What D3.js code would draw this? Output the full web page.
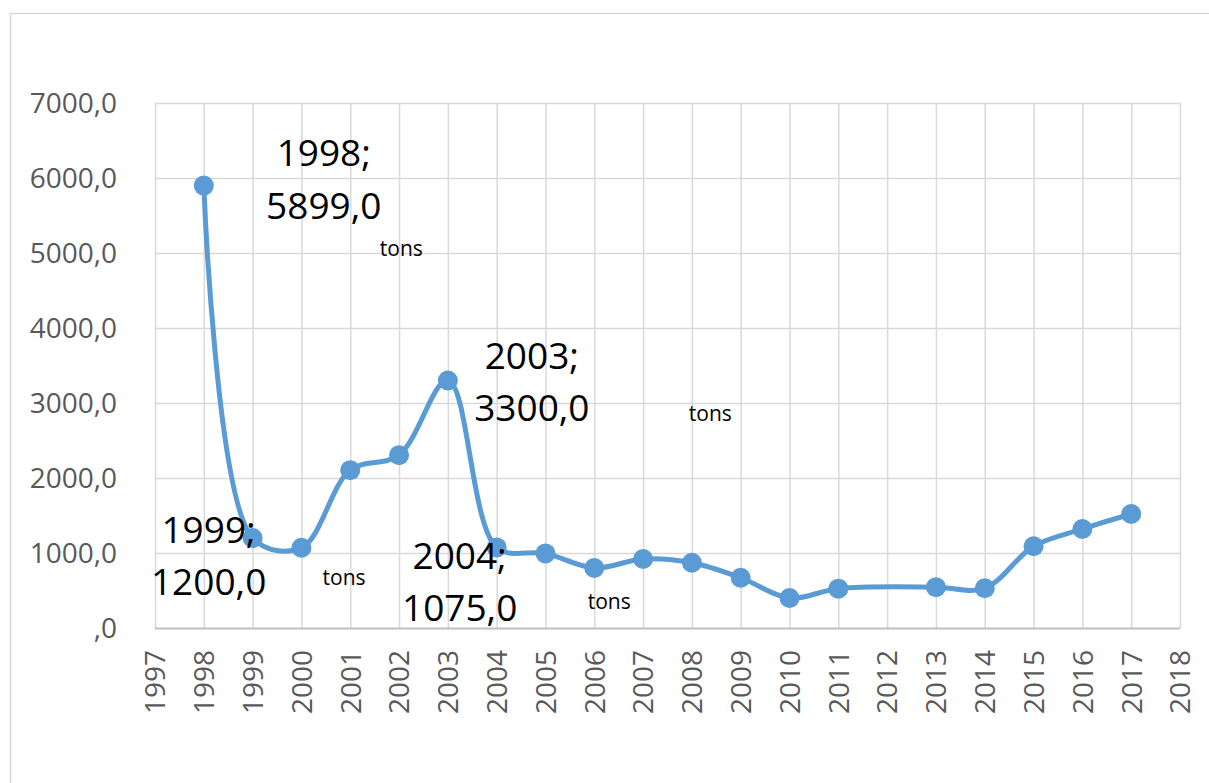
<!DOCTYPE html>
<html>
<head>
<meta charset="utf-8">
<script src="https://cdn.jsdelivr.net/npm/d3@7"></script>
<style>
  body { margin: 0; background: #fff; }
  svg { display: block; font-family: "Open Sans", sans-serif; }
</style>
</head>
<body>
<svg id="chart"></svg>
<script>
// data (2012 missing in source)
const years = [1998, 1999, 2000, 2001, 2002, 2003, 2004, 2005, 2006, 2007, 2008, 2009, 2010, 2011, 2013, 2014, 2015, 2016, 2017];
const values = [5899, 1200, 1070, 2105, 2305, 3300, 1075, 995, 800, 920, 870, 670, 400, 525, 545, 530, 1090, 1320, 1520];
const yTicks = [0, 1000, 2000, 3000, 4000, 5000, 6000, 7000];
const xTicks = d3.range(1997, 2019);
const labelYears = [1998, 1999, 2003, 2004];
const unit = "tons";

const width = 1209, height = 783;
const margin = { top: 103, right: 29, bottom: 155, left: 155 };

const svg = d3.select("#chart")
    .attr("width", width)
    .attr("height", height)
    .attr("viewBox", [0, 0, width, height]);

// chart area border
svg.append("rect")
    .attr("x", 10.5).attr("y", 13.5)
    .attr("width", width + 20).attr("height", height + 20)
    .attr("fill", "none")
    .attr("stroke", "#d9d9d9")
    .attr("stroke-width", 1.5);

const x = d3.scaleLinear()
    .domain([1997, 2018])
    .range([margin.left, width - margin.right]);

const y = d3.scaleLinear()
    .domain([0, 7000])
    .range([height - margin.bottom, margin.top]);

const fmt = v => v === 0 ? ",0" : d3.format(".1f")(v).replace(".", ",");

// vertical grid + x labels
svg.append("g")
    .attr("transform", `translate(0,${height - margin.bottom})`)
    .call(d3.axisBottom(x).tickValues(xTicks).tickFormat(d3.format("d")).tickSize(0))
    .call(g => {
        g.select(".domain").remove();
        g.selectAll(".tick line").clone()
            .attr("y2", -(height - margin.top - margin.bottom))
            .attr("stroke", "#d9d9d9")
            .attr("stroke-width", 1.5);
        g.selectAll(".tick text")
            .attr("transform", "rotate(-90)")
            .attr("text-anchor", "end")
            .attr("x", -22)
            .attr("y", 0)
            .attr("dy", "0.35em")
            .attr("fill", "#595959")
            .attr("font-size", 28)
            .attr("font-family", "Open Sans, sans-serif");
    });

// horizontal grid + y labels
svg.append("g")
    .attr("transform", `translate(${margin.left},0)`)
    .call(d3.axisLeft(y).tickValues(yTicks).tickFormat(fmt).tickSize(0))
    .call(g => {
        g.select(".domain").remove();
        g.selectAll(".tick line").clone()
            .attr("x2", width - margin.left - margin.right)
            .attr("stroke", d => d === 0 ? "#bfbfbf" : "#d9d9d9")
            .attr("stroke-width", d => d === 0 ? 2 : 1.5);
        g.selectAll(".tick text")
            .attr("x", -38)
            .attr("dy", "0.35em")
            .attr("fill", "#595959")
            .attr("font-size", 28)
            .attr("font-family", "Open Sans, sans-serif");
    });

const data = years.map((yr, i) => ({ year: yr, value: values[i] }));

const line = d3.line()
    .x(d => x(d.year))
    .y(d => y(d.value))
    .curve(d3.curveCatmullRom.alpha(0.5));

svg.append("path")
    .datum(data)
    .attr("fill", "none")
    .attr("stroke", "#5b9bd5")
    .attr("stroke-width", 5)
    .attr("stroke-linejoin", "round")
    .attr("d", line);

svg.selectAll(".dot")
  .data(data)
  .join("circle")
    .attr("class", "dot")
    .attr("cx", d => x(d.year))
    .attr("cy", d => y(d.value))
    .attr("r", 10)
    .attr("fill", "#5b9bd5");

// data labels (manually placed in the original)
const offsets = {
    1998: { dx: 120, dy1: -20, dy2: 33, tx: 176, ty: 70 },
    1999: { dx: -44, dy1: 5, dy2: 57, tx: 70, ty: 47 },
    2003: { dx: 84, dy1: -12, dy2: 40, tx: 241, ty: 40 },
    2004: { dx: -37, dy1: 22, dy2: 74, tx: 91, ty: 62 }
};

const labels = data.filter(d => labelYears.includes(d.year));

const lg = svg.selectAll(".data-label")
  .data(labels)
  .join("g")
    .attr("class", "data-label")
    .attr("transform", d => `translate(${x(d.year)},${y(d.value)})`);

lg.append("text")
    .attr("x", d => offsets[d.year].dx)
    .attr("y", d => offsets[d.year].dy1)
    .attr("text-anchor", "middle")
    .attr("font-size", 37)
    .attr("fill", "#000")
    .text(d => `${d.year};`);

lg.append("text")
    .attr("x", d => offsets[d.year].dx)
    .attr("y", d => offsets[d.year].dy2)
    .attr("text-anchor", "middle")
    .attr("font-size", 37)
    .attr("fill", "#000")
    .text(d => fmt(d.value));

lg.append("text")
    .attr("x", d => offsets[d.year].tx)
    .attr("y", d => offsets[d.year].ty)
    .attr("font-size", 21)
    .attr("fill", "#000")
    .text(unit);
</script>
</body>
</html>
